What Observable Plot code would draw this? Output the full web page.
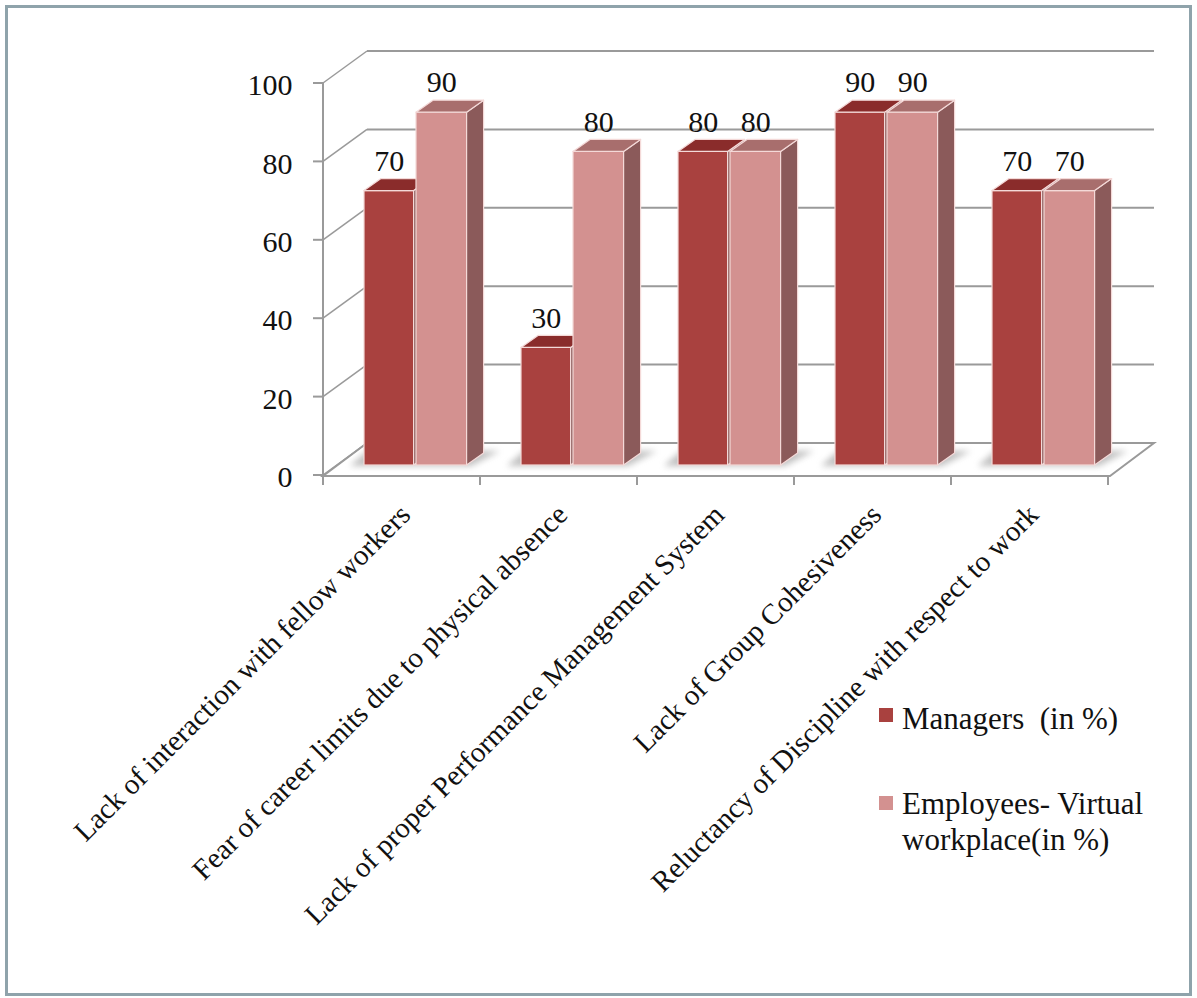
<!DOCTYPE html>
<html>
<head>
<meta charset="utf-8">
<script src="https://cdn.jsdelivr.net/npm/d3@7"></script>
<script src="https://cdn.jsdelivr.net/npm/@observablehq/plot@0.6"></script>
<style>
  html, body { margin: 0; padding: 0; background: #fff; }
  #wrap { position: relative; width: 1197px; height: 998px; overflow: hidden; background: #fff; }
  #border { position: absolute; left: 5px; top: 5px; width: 1181px; height: 985px; border: 3px solid #8fa3ab; pointer-events: none; }
  #legend { position: absolute; left: 0; top: 0; font-family: "Liberation Serif", "Times New Roman", serif; font-size: 31px; color: #111; }
  .sw { position: absolute; width: 14px; height: 14px; }
  .lt { position: absolute; white-space: pre; line-height: 36px; }
  #chart svg text { font-family: "Liberation Serif", "Times New Roman", serif; }
</style>
</head>
<body>
<div id="wrap">
  <div id="chart"></div>
  <div id="legend"></div>
  <div id="border"></div>
</div>
<script>
// ---- data ----
const categories = [
  "Lack of interaction with fellow workers",
  "Fear of career limits due to physical absence",
  "Lack of proper Performance Management System",
  "Lack of Group Cohesiveness",
  "Reluctancy of Discipline with respect to work"
];
const managers = [70, 30, 80, 90, 70];
const employees = [90, 80, 80, 90, 70];
const seriesLabels = ["Managers  (in %)", "Employees- Virtual\nworkplace(in %)"];
const yTicks = [0, 20, 40, 60, 80, 100];

// ---- styling ----
const colors = {
  mFront: "#a9413f", mTop: "#8a2c2b",
  eFront: "#d39190", eTop: "#a86e6d",
  side: "#8b5a5a", outline: "#f4d9d8", grid: "#9a9a9a"
};
const WALL = {dx: 44, dy: -32};   // depth of the 3-D box
const SHIFT = {dx: 13, dy: -10};  // bar front face offset into the box
const DEPTH = {dx: 17, dy: -12};  // bar depth
const INSET = {m: [27, 80.4], e: [79, 27.4]};

const mRows = categories.map((c, i) => ({category: c, value: managers[i]}));
const eRows = categories.map((c, i) => ({category: c, value: employees[i]}));

function bandwidthOf(scales, dims) {
  if (scales.x && typeof scales.x.bandwidth === "function") return scales.x.bandwidth();
  if (scales.scales && scales.scales.x && scales.scales.x.bandwidth != null) return scales.scales.x.bandwidth;
  return (dims.width - dims.marginLeft - dims.marginRight) / categories.length;
}

// box: floor, back-wall gridlines, side-wall diagonals, axis line and ticks
const boxMark = (index, scales, values, dims) => {
  const g = d3.create("svg:g").attr("fill", "none").attr("stroke", colors.grid).attr("stroke-width", 2);
  const L = dims.marginLeft, R = dims.width - dims.marginRight;
  const y0 = scales.y(0), yMax = scales.y(d3.max(yTicks));
  g.append("path")
    .attr("d", `M${L},${y0 + 1}L${R},${y0 + 1}L${R + WALL.dx},${y0 + WALL.dy}L${L + WALL.dx},${y0 + WALL.dy}Z`)
    .attr("fill", "#fff");
  for (const t of yTicks) {
    const y = scales.y(t);
    g.append("line").attr("x1", L + WALL.dx).attr("x2", R + WALL.dx).attr("y1", y + WALL.dy).attr("y2", y + WALL.dy);
    g.append("line").attr("x1", L).attr("x2", L + WALL.dx).attr("y1", y).attr("y2", y + WALL.dy).attr("stroke-width", 1.5);
    g.append("line").attr("x1", L - 10).attr("x2", L).attr("y1", y).attr("y2", y);
  }
  g.append("line").attr("x1", L).attr("x2", L).attr("y1", y0 + 1).attr("y2", yMax);
  const bw = bandwidthOf(scales, dims);
  for (let i = 0; i <= categories.length; i++) {
    const x = L + i * bw;
    g.append("line").attr("x1", x).attr("x2", x).attr("y1", y0 + 1).attr("y2", y0 + 10);
  }
  return g.node();
};

// soft floor shadows under each bar group
const shadowMark = (index, scales, values, dims) => {
  const g = d3.create("svg:g");
  g.append("defs").append("filter").attr("id", "blurShadow").attr("x", "-20%").attr("y", "-50%").attr("width", "140%").attr("height", "200%")
    .append("feGaussianBlur").attr("stdDeviation", 3);
  const bw = bandwidthOf(scales, dims);
  const yb = scales.y(0) + SHIFT.dy;
  for (const c of categories) {
    const x0 = scales.x(c) + INSET.m[0] + SHIFT.dx;
    const x1 = scales.x(c) + bw - INSET.e[1] + SHIFT.dx;
    g.append("path")
      .attr("d", `M${x0 - 14},${yb + 1}L${x1 + 4},${yb + 1}L${x1 + DEPTH.dx + 16},${yb + DEPTH.dy - 2}L${x0 + DEPTH.dx - 14},${yb + DEPTH.dy - 2}Z`)
      .attr("fill", "#8c8c8c").attr("opacity", 0.55).attr("filter", "url(#blurShadow)");
  }
  return g.node();
};

// top and side faces of the bars
function facesMark(vals, inset, topColor) {
  return (index, scales, values, dims) => {
    const g = d3.create("svg:g").attr("stroke", colors.outline).attr("stroke-width", 1.2).attr("stroke-linejoin", "round");
    const bw = bandwidthOf(scales, dims);
    categories.forEach((c, i) => {
      const x0 = scales.x(c) + inset[0] + SHIFT.dx;
      const x1 = scales.x(c) + bw - inset[1] + SHIFT.dx;
      const yt = scales.y(vals[i]) + SHIFT.dy;
      const yb = scales.y(0) + SHIFT.dy;
      g.append("path")
        .attr("d", `M${x1},${yt}L${x1 + DEPTH.dx},${yt + DEPTH.dy}L${x1 + DEPTH.dx},${yb + DEPTH.dy}L${x1},${yb}Z`)
        .attr("fill", colors.side);
      g.append("path")
        .attr("d", `M${x0},${yt}L${x1},${yt}L${x1 + DEPTH.dx},${yt + DEPTH.dy}L${x0 + DEPTH.dx},${yt + DEPTH.dy}Z`)
        .attr("fill", topColor);
    });
    return g.node();
  };
}

const font = "Liberation Serif, Times New Roman, serif";
// label centre offset from band centre (bar centre + front shift)
const W = 1197, H = 998;
const bandPx = (W - 323 - 87) / categories.length;
const mCenterDx = INSET.m[0] + (bandPx - INSET.m[0] - INSET.m[1]) / 2 - bandPx / 2 + SHIFT.dx;
const eCenterDx = INSET.e[0] + (bandPx - INSET.e[0] - INSET.e[1]) / 2 - bandPx / 2 + SHIFT.dx;

const chart = Plot.plot({
  width: W, height: H,
  marginLeft: 323, marginRight: 87, marginTop: 83, marginBottom: 523,
  style: {fontFamily: font, color: "#111", background: "transparent", overflow: "visible"},
  x: {type: "band", domain: categories, padding: 0, axis: null},
  y: {domain: [0, 100], axis: null},
  marks: [
    boxMark,
    shadowMark,
    Plot.barY(mRows, {x: "category", y: "value", fill: colors.mFront, stroke: colors.outline, strokeWidth: 1.2,
      insetLeft: INSET.m[0], insetRight: INSET.m[1], dx: SHIFT.dx, dy: SHIFT.dy}),
    facesMark(managers, INSET.m, colors.mTop),
    Plot.barY(eRows, {x: "category", y: "value", fill: colors.eFront, stroke: colors.outline, strokeWidth: 1.2,
      insetLeft: INSET.e[0], insetRight: INSET.e[1], dx: SHIFT.dx, dy: SHIFT.dy}),
    facesMark(employees, INSET.e, colors.eTop),
    Plot.text(mRows, {x: "category", y: "value", text: d => String(d.value), dx: mCenterDx, dy: -40, fontSize: 30, fontFamily: font, fill: "#111"}),
    Plot.text(eRows, {x: "category", y: "value", text: d => String(d.value), dx: eCenterDx, dy: -40, fontSize: 30, fontFamily: font, fill: "#111"}),
    Plot.text(yTicks, {y: d => d, text: d => String(d), frameAnchor: "left", textAnchor: "end", dx: -31, dy: 2, fontSize: 30, fontFamily: font, fill: "#111"}),
    Plot.text(categories, {x: d => d, text: d => d, frameAnchor: "bottom", textAnchor: "end", rotate: -45, dx: 9, dy: 41, fontSize: 29, fontFamily: font, fill: "#111"})
  ]
});
document.getElementById("chart").appendChild(chart);

// ---- legend ----
const legend = document.getElementById("legend");
const items = [
  {label: seriesLabels[0], color: colors.mFront, sw: [879, 708], text: [902, 701]},
  {label: seriesLabels[1], color: colors.eFront, sw: [879, 796], text: [902, 786]}
];
for (const it of items) {
  const s = document.createElement("div");
  s.className = "sw"; s.style.left = it.sw[0] + "px"; s.style.top = it.sw[1] + "px"; s.style.background = it.color;
  legend.appendChild(s);
  const t = document.createElement("div");
  t.className = "lt"; t.style.left = it.text[0] + "px"; t.style.top = it.text[1] + "px";
  t.textContent = it.label;
  legend.appendChild(t);
}
</script>
</body>
</html>
